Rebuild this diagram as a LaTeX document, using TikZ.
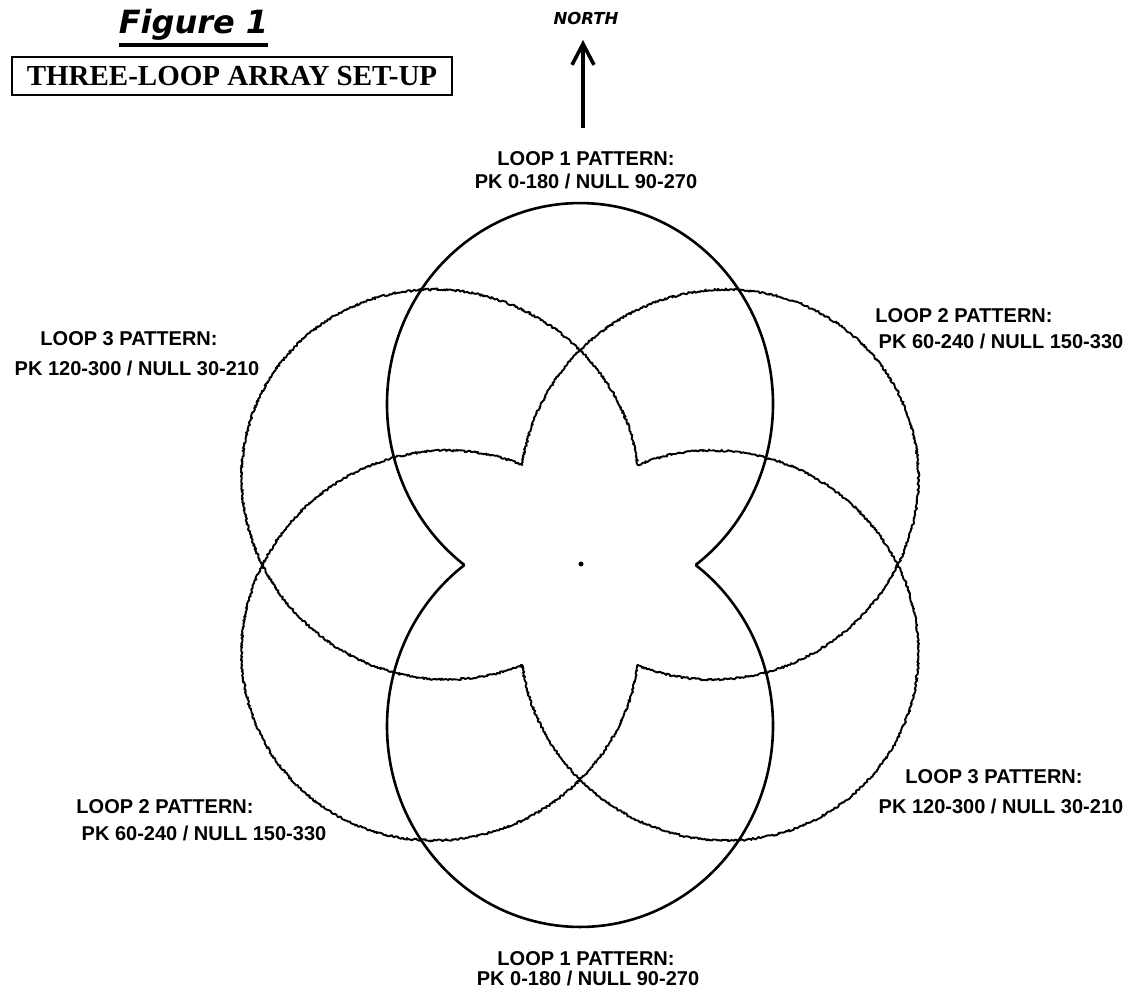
\documentclass[tikz,border=0pt]{standalone}
\usepackage{fontspec}
\setmainfont{Liberation Sans}
\newfontfamily\serifbf{Liberation Serif}
\newfontfamily\wideobl{DejaVu Sans}
\usetikzlibrary{arrows.meta,decorations.pathmorphing}
\newcommand{\lobearc}{(115.6,0) arc[start angle=-53.2, end angle=233.2, x radius=193, y radius=201]}
\begin{document}
\begin{tikzpicture}[x=1pt,y=-1pt,
  lbl/.style={font=\fontsize{20}{20}\selectfont\bfseries, inner sep=0pt, anchor=center},
  solidloop/.style={draw=black, line width=2.6pt, line join=miter},
  roughloop/.style={draw=black, line width=1.9pt, line join=round, line cap=round, decorate,
     decoration={random steps, segment length=1.3pt, amplitude=1.0pt}}]
\useasboundingbox (0,0) rectangle (1140,994);
% title
\node[inner sep=0pt, anchor=base, font=\wideobl\fontsize{32}{32}\selectfont\bfseries\itshape] (fig) at (193.5,33) {Figure 1};
\draw[line width=3.5pt] (fig.west |- 0,45) coordinate (ulA) -- (fig.east |- 0,45) coordinate (ulB);
\node[draw, line width=2.4pt, minimum width=440pt, minimum height=38pt, inner sep=0pt,
      font=\serifbf\fontsize{29}{29}\selectfont\bfseries] (setup) at (232,76) {THREE-LOOP ARRAY SET-UP};
% north arrow
\node[inner sep=0pt, font=\wideobl\fontsize{16.5}{16.5}\selectfont\bfseries\itshape] (north) at (586,18) {NORTH};
\coordinate (arrbot) at (583,128);
\coordinate (arrtop) at (583,40);
\draw[line width=4pt, -{Straight Barb[length=21pt,width=22pt,line width=3.6pt]}] (arrbot) -- (arrtop);
% center dot
\node[circle, fill=black, inner sep=0pt, minimum size=5pt] (ctr) at (581,564) {};
% loops: envelope of two overlapping ellipses each
\begin{scope}[shift={(580,565)}, yscale=-1]
  % loop 1 (solid), peak 0-180
  \draw[solidloop] \lobearc;
  \begin{scope}[rotate=180] \draw[solidloop] \lobearc; \end{scope}
  % loop 2 (rough), peak 60-240
  \begin{scope}[rotate=-60] \draw[roughloop] \lobearc; \end{scope}
  \begin{scope}[rotate=120] \draw[roughloop] \lobearc; \end{scope}
  % loop 3 (rough), peak 120-300
  \begin{scope}[rotate=60] \draw[roughloop] \lobearc; \end{scope}
  \begin{scope}[rotate=240] \draw[roughloop] \lobearc; \end{scope}
\end{scope}
% labels
\node[lbl] (l1t) at (586,159) {LOOP 1 PATTERN:};
\node[lbl] (p1t) at (586,181) {PK 0-180 / NULL 90-270};
\node[lbl] (l3a) at (129,339) {LOOP 3 PATTERN:};
\node[lbl] (p3a) at (137,368) {PK 120-300 / NULL 30-210};
\node[lbl] (l2a) at (964,316) {LOOP 2 PATTERN:};
\node[lbl] (p2a) at (1001,341) {PK 60-240 / NULL 150-330};
\node[lbl] (l2b) at (165,807) {LOOP 2 PATTERN:};
\node[lbl] (p2b) at (204,833) {PK 60-240 / NULL 150-330};
\node[lbl] (l3b) at (994,777) {LOOP 3 PATTERN:};
\node[lbl] (p3b) at (1001,806) {PK 120-300 / NULL 30-210};
\node[lbl] (l1b) at (586,959) {LOOP 1 PATTERN:};
\node[lbl] (p1b) at (588,978) {PK 0-180 / NULL 90-270};
\end{tikzpicture}
\end{document}
